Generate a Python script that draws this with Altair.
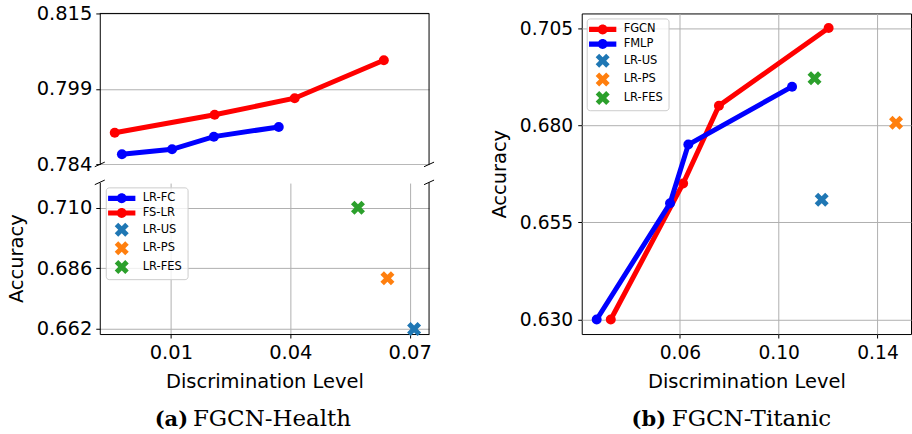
import math
import altair as alt
import pandas as pd

# ---------------- data: (a) FGCN-Health ----------------
a_series = ["LR-FC", "FS-LR", "LR-US", "LR-PS", "LR-FES"]
a_fc_x = [-0.0023, 0.0103, 0.0208, 0.0371]
a_fc_y = [0.7861, 0.7871, 0.7897, 0.7917]
a_fs_x = [-0.0041, 0.0210, 0.0411, 0.0635]
a_fs_y = [0.7905, 0.7942, 0.7976, 0.8054]
a_sc_names = ["LR-US", "LR-PS", "LR-FES"]
a_sc_x = [0.0711, 0.0644, 0.0570]
a_sc_y = [0.6620, 0.6821, 0.7100]
a_x_ticks = [0.01, 0.04, 0.07]
a_top_ticks = [0.784, 0.7995, 0.815]
a_top_tick_labels = ["0.784", "0.799", "0.815"]
a_top_limits = [0.784, 0.815]
a_bot_ticks = [0.662, 0.686, 0.710]
a_bot_limits = [0.660, 0.720]

# ---------------- data: (b) FGCN-Titanic ----------------
b_series = ["FGCN", "FMLP", "LR-US", "LR-PS", "LR-FES"]
b_fgcn_x = [0.0320, 0.0613, 0.0758, 0.1202]
b_fgcn_y = [0.6300, 0.6650, 0.6850, 0.7050]
b_fmlp_x = [0.0263, 0.0560, 0.0634, 0.1054]
b_fmlp_y = [0.6300, 0.6599, 0.6750, 0.6899]
b_sc_names = ["LR-US", "LR-PS", "LR-FES"]
b_sc_x = [0.1174, 0.1475, 0.1145]
b_sc_y = [0.6608, 0.6806, 0.6921]
b_x_ticks = [0.06, 0.10, 0.14]
b_y_ticks = [0.630, 0.655, 0.680, 0.705]

x_title = "Discrimination Level"
y_title = "Accuracy"
caption_a = ["(a)", "FGCN-Health"]
caption_b = ["(b)", "FGCN-Titanic"]

# ---------------- style ----------------
a_colors = ["#0000ff", "#ff0000", "#1f77b4", "#ff7f0e", "#2ca02c"]
b_colors = ["#ff0000", "#0000ff", "#1f77b4", "#ff7f0e", "#2ca02c"]
FONT = "DejaVu Sans"
SERIF = "DejaVu Serif"
GRID = "#b0b0b0"
SYM = 144  # symbol area -> 12 px box, 1 path unit = 6 px
W = 330
H = 321.3
A_TOP_H = 151.3
A_BOT_Y0 = 169.3
LAB = 19.5
LAB_B = 18.7
TIT = 19.5
NBSP = "\u00a0"


def x_marker_path(half):
    a = 1.0 / 3.0
    pts = [(a, 1), (a, a), (1, a), (1, -a), (a, -a), (a, -1), (-a, -1),
           (-a, -a), (-1, -a), (-1, a), (-a, a), (-a, 1)]
    k = half / ((1 + a) / math.sqrt(2))
    out = []
    for px, py in pts:
        rx = (px - py) / math.sqrt(2) * k
        ry = (px + py) / math.sqrt(2) * k
        out.append(f"{rx:.3f},{ry:.3f}")
    return "M" + "L".join(out) + "Z"


def line_dot_path(hl, ht, r):
    return (f"M{-hl},{-ht}H{hl}V{ht}H{-hl}Z"
            f"M{-r},0A{r},{r} 0 1,1 {r},0A{r},{r} 0 1,1 {-r},0Z")


LD = line_dot_path(2.28, 0.43, 0.83)
XM = x_marker_path(1.17)
shapes = [LD, LD, XM, XM, XM]


def pad5(vals):
    lo, hi = min(vals), max(vals)
    m = 0.05 * (hi - lo)
    return [lo - m, hi + m]


df_a_sc = pd.DataFrame({"series": a_sc_names, "x": a_sc_x, "y": a_sc_y})
df_b_sc = pd.DataFrame({"series": b_sc_names, "x": b_sc_x, "y": b_sc_y})
one = pd.DataFrame({"k": [0]})

a_xdom = pad5(a_fc_x + a_fs_x + a_sc_x)
b_xdom = pad5(b_fgcn_x + b_fmlp_x + b_sc_x)
b_ydom = pad5(b_fgcn_y + b_fmlp_y + b_sc_y)


def label_expr(ticks, labels):
    s = ""
    for i in range(len(ticks) - 1):
        thr = (ticks[i] + ticks[i + 1]) / 2
        s += f"datum.value < {thr} ? '{labels[i]}' : "
    return s + f"'{labels[-1]}'"


def x_axis(values, lsize, domain=True):
    return alt.Axis(values=values, format=".2f", title=x_title, labelFontSize=lsize,
                    titleFontSize=TIT, tickSize=4, labelPadding=6, titlePadding=10,
                    labelFlush=False, domain=domain, grid=True)


def legend(**kw):
    return alt.Legend(title=None, symbolSize=SYM, symbolOffset=5, labelOffset=15,
                      padding=5, rowPadding=2.7, labelFontSize=11.5, labelFont=FONT,
                      labelColor="black", strokeColor="#cccccc",
                      fillColor="rgba(255,255,255,0.8)", cornerRadius=3,
                      symbolStrokeWidth=0, **kw)


def rule(x1, y1, x2, y2):
    return alt.Chart(one).mark_rule(color="black", strokeWidth=1).encode(
        x=alt.value(x1), y=alt.value(y1), x2=alt.value(x2), y2=alt.value(y2))


def caption(parts, x_bold, x_norm, y):
    c1 = alt.Chart(one).mark_text(font=SERIF, fontSize=21, fontWeight="bold", align="left",
                                  baseline="alphabetic", color="black").encode(
        x=alt.value(x_bold), y=alt.value(y), text=alt.value(parts[0]))
    c2 = alt.Chart(one).mark_text(font=SERIF, fontSize=23, fontWeight="normal", align="left",
                                  baseline="alphabetic", color="black").encode(
        x=alt.value(x_norm), y=alt.value(y), text=alt.value(parts[1]))
    return [c1, c2]


def series_layers(xs, ys, color, xenc, yenc):
    df = pd.DataFrame({"x": xs, "y": ys})
    ln = alt.Chart(df).mark_line(strokeWidth=5, color=color).encode(x=xenc, y=yenc)
    pt = alt.Chart(df).mark_circle(size=100, opacity=1, color=color).encode(x=xenc, y=yenc)
    return [ln, pt]


# ---------------- panel (a) ----------------
xA = alt.X("x:Q", scale=alt.Scale(domain=a_xdom, nice=False, zero=False),
           axis=x_axis(a_x_ticks, LAB))
yTop = alt.Y("y:Q", scale=alt.Scale(domain=a_top_limits, range=[A_TOP_H, 0], nice=False, zero=False),
             axis=alt.Axis(values=a_top_ticks, labelExpr=label_expr(a_top_ticks, a_top_tick_labels),
                           title=None, orient="left", labelFontSize=LAB, tickSize=4,
                           labelPadding=4, grid=True))
yBot = alt.Y("y:Q", scale=alt.Scale(domain=a_bot_limits, range=[H, A_BOT_Y0], nice=False, zero=False),
             axis=alt.Axis(values=a_bot_ticks, format=".3f", title=y_title, orient="left",
                           labelFontSize=LAB, titleFontSize=TIT, tickSize=4, labelPadding=4,
                           titlePadding=10, grid=True))
legA = legend(orient="none", legendX=6, legendY=174.3,
              labelExpr=f"datum.label + '{NBSP}{NBSP}'")
colA = alt.Color("series:N", scale=alt.Scale(domain=a_series, range=a_colors), legend=legA)
shpA = alt.Shape("series:N", scale=alt.Scale(domain=a_series, range=shapes), legend=legA)

a_top = alt.layer(
    *series_layers(a_fc_x, a_fc_y, a_colors[0], xA, yTop),
    *series_layers(a_fs_x, a_fs_y, a_colors[1], xA, yTop),
)
a_sc = alt.Chart(df_a_sc).mark_point(filled=True, size=SYM, opacity=1).encode(
    x=xA, y=yBot, color=colA, shape=shpA)

cover = alt.Chart(one).mark_rect(color="white").encode(
    x=alt.value(0.6), x2=alt.value(W - 0.6), y=alt.value(A_TOP_H + 0.6), y2=alt.value(A_BOT_Y0 - 0.6))
dx, dy = 5, 2.3
decos_a = [
    cover,
    rule(0, 0, W, 0),                      # top spine
    rule(W, 0, W, A_TOP_H),                # right spine (upper)
    rule(W, A_BOT_Y0, W, H),               # right spine (lower)
    rule(-dx, A_TOP_H + dy, dx, A_TOP_H - dy),
    rule(W - dx, A_TOP_H + dy, W + dx, A_TOP_H - dy),
    rule(-dx, A_BOT_Y0 + dy, dx, A_BOT_Y0 - dy),
    rule(W - dx, A_BOT_Y0 + dy, W + dx, A_BOT_Y0 - dy),
] + caption(caption_a, 55, 93.3, 413.3)

panel_a = alt.layer(
    a_top,
    alt.layer(a_sc),
    *decos_a,
).resolve_scale(y="independent").properties(width=W, height=H)

# ---------------- panel (b) ----------------
xB = alt.X("x:Q", scale=alt.Scale(domain=b_xdom, nice=False, zero=False),
           axis=x_axis(b_x_ticks, LAB_B, domain=False))
yB = alt.Y("y:Q", scale=alt.Scale(domain=b_ydom, nice=False, zero=False),
           axis=alt.Axis(values=b_y_ticks, format=".3f", title=y_title, labelFontSize=LAB_B,
                         titleFontSize=TIT, tickSize=4, labelPadding=5, titlePadding=10,
                         domain=False, grid=True))
legB = legend(orient="top-left", offset=5)
colB = alt.Color("series:N", scale=alt.Scale(domain=b_series, range=b_colors), legend=legB)
shpB = alt.Shape("series:N", scale=alt.Scale(domain=b_series, range=shapes), legend=legB)

b_sc = alt.Chart(df_b_sc).mark_point(filled=True, size=SYM, opacity=1).encode(
    x=xB, y=yB, color=colB, shape=shpB)

panel_b = alt.layer(
    *series_layers(b_fgcn_x, b_fgcn_y, b_colors[0], xB, yB),
    *series_layers(b_fmlp_x, b_fmlp_y, b_colors[1], xB, yB),
    b_sc,
    *caption(caption_b, 50, 90.3, 413.3)
).properties(width=W, height=H, view=alt.ViewBackground(stroke="black", strokeWidth=1))

chart = alt.hconcat(panel_a, panel_b, spacing=153, bounds="flush").resolve_scale(
    color="independent", shape="independent"
).properties(
    padding={"left": 6, "top": 3, "right": 0, "bottom": 0}
).configure_view(stroke=None).configure_axis(
    labelFont=FONT, titleFont=FONT, labelColor="black", titleColor="black",
    tickColor="black", domainColor="black", gridColor=GRID, gridWidth=1,
    titleFontWeight="normal", tickWidth=1, domainWidth=1
)

chart.save("out.html", embed_options={"renderer": "svg", "actions": False})
